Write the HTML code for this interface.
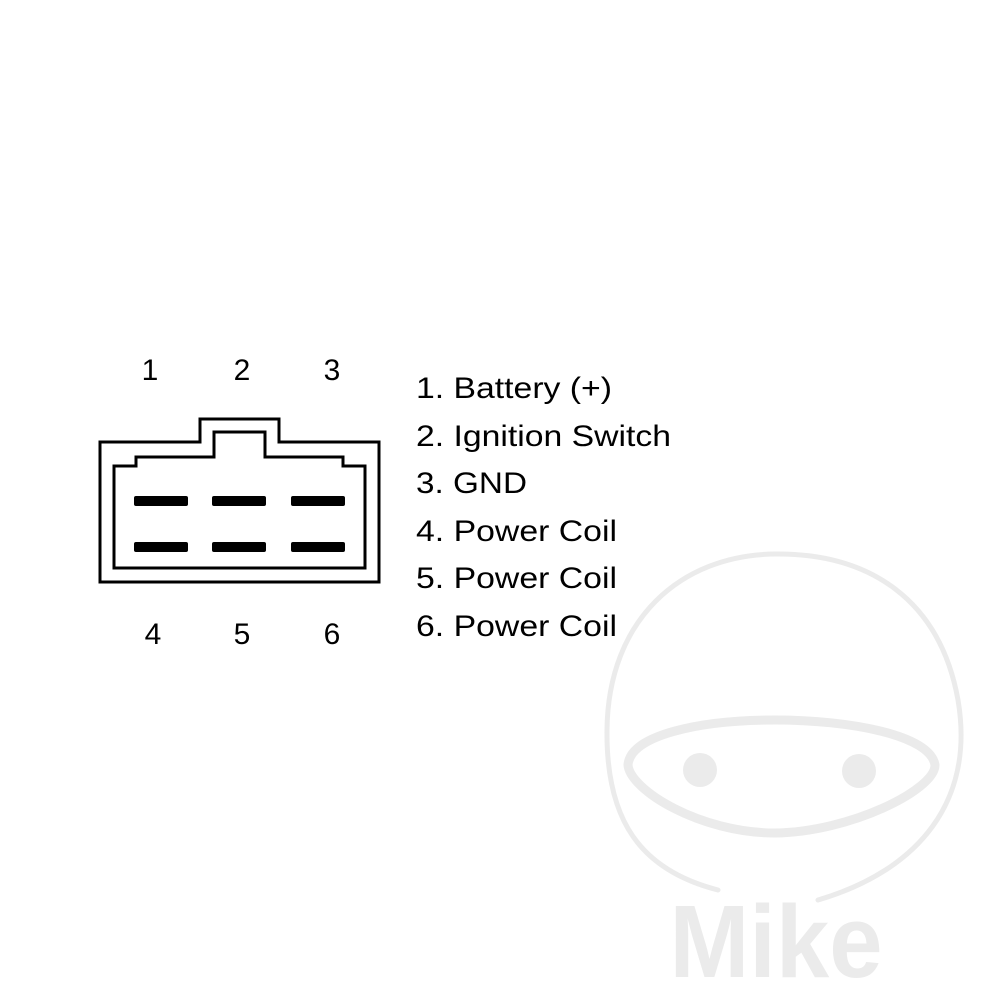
<!DOCTYPE html>
<html><head><meta charset="utf-8"><style>html,body{margin:0;padding:0;background:#fff}svg{display:block}</style></head>
<body>
<svg width="1000" height="1000" viewBox="0 0 1000 1000" xmlns="http://www.w3.org/2000/svg">
<g fill="none" stroke="#ebebeb" stroke-linecap="round">
<path d="M718,890 C640,870 606,820 607,730 C608,620 680,555 775,554 C870,553 940,600 958,700 C975,800 920,870 818,900" stroke-width="5"/>
<path d="M775,720 C850,720 930,735 935,765 C935,790 850,832 775,833 C700,833 630,790 628,765 C630,735 700,720 775,720 Z" stroke-width="9"/>
</g>
<circle cx="700" cy="770" r="17" fill="#ebebeb"/>
<circle cx="859" cy="771" r="17" fill="#ebebeb"/>
<text x="776" y="977" text-anchor="middle" font-family="Liberation Sans, sans-serif" font-weight="bold" font-size="103" fill="#ebebeb" textLength="213" lengthAdjust="spacingAndGlyphs">Mike</text>
<g fill="none" stroke="#000" stroke-width="3">
<path d="M100,442 H200 V419 H279 V442 H379 V582 H100 Z"/>
<path d="M114,466 H136 V457 H214 V432 H265 V457 H343 V466 H365 V568 H114 Z"/>
</g>
<g fill="#000">
<rect x="134" y="496" width="54" height="10" rx="2"/>
<rect x="212" y="496" width="54" height="10" rx="2"/>
<rect x="291" y="496" width="54" height="10" rx="2"/>
<rect x="134" y="542" width="54" height="10" rx="2"/>
<rect x="212" y="542" width="54" height="10" rx="2"/>
<rect x="291" y="542" width="54" height="10" rx="2"/>
</g>
<g font-family="Liberation Sans, sans-serif" font-size="30" fill="#000" text-anchor="middle">
<text x="150" y="380">1</text><text x="242" y="380">2</text><text x="332" y="380">3</text>
<text x="153" y="644">4</text><text x="242" y="644">5</text><text x="332" y="644">6</text>
</g>
<g font-family="Liberation Sans, sans-serif" font-size="30" fill="#000" lengthAdjust="spacingAndGlyphs">
<text x="416" y="398" textLength="196" lengthAdjust="spacingAndGlyphs">1. Battery (+)</text>
<text x="416" y="446" textLength="255" lengthAdjust="spacingAndGlyphs">2. Ignition Switch</text>
<text x="416" y="493" textLength="111" lengthAdjust="spacingAndGlyphs">3. GND</text>
<text x="416" y="541" textLength="201" lengthAdjust="spacingAndGlyphs">4. Power Coil</text>
<text x="416" y="588" textLength="201" lengthAdjust="spacingAndGlyphs">5. Power Coil</text>
<text x="416" y="636" textLength="201" lengthAdjust="spacingAndGlyphs">6. Power Coil</text>
</g>
</svg>
</body></html>
